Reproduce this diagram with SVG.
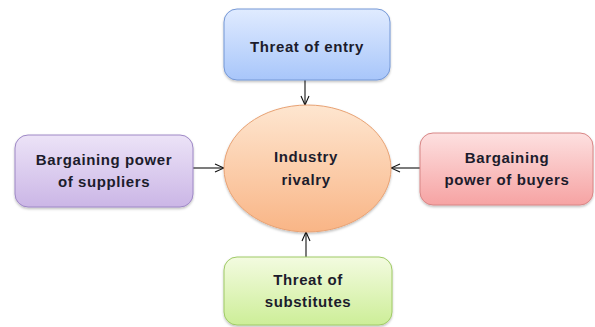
<svg xmlns="http://www.w3.org/2000/svg" width="595" height="327" viewBox="0 0 595 327">
<defs>
<linearGradient id="gBlue" x1="0" y1="0" x2="0" y2="1"><stop offset="0" stop-color="#e0ebff"/><stop offset="1" stop-color="#a8c6fa"/></linearGradient>
<linearGradient id="gPurple" x1="0" y1="0" x2="0" y2="1"><stop offset="0" stop-color="#ece3f7"/><stop offset="1" stop-color="#cbb6e6"/></linearGradient>
<linearGradient id="gRed" x1="0" y1="0" x2="0" y2="1"><stop offset="0" stop-color="#fde0e0"/><stop offset="1" stop-color="#f6a3a3"/></linearGradient>
<linearGradient id="gGreen" x1="0" y1="0" x2="0" y2="1"><stop offset="0" stop-color="#f3fbe0"/><stop offset="1" stop-color="#cdee98"/></linearGradient>
<linearGradient id="gOrange" x1="0" y1="0" x2="0" y2="1"><stop offset="0" stop-color="#fee6d0"/><stop offset="1" stop-color="#f9b586"/></linearGradient>
<filter id="sh" x="-10%" y="-10%" width="120%" height="130%"><feDropShadow dx="0" dy="1.5" stdDeviation="1.2" flood-color="#000" flood-opacity="0.25"/></filter>
<marker id="arr" viewBox="0 0 10 10" refX="10" refY="5" markerWidth="10" markerHeight="10" markerUnits="userSpaceOnUse" orient="auto"><path d="M1,1 L10,5 L1,9" fill="none" stroke="#111" stroke-width="1.1"/></marker>
</defs>
<style>
.t{font-family:"Liberation Sans",Arial,sans-serif;font-weight:bold;font-size:15px;letter-spacing:0.6px;fill:#1c1c2c;text-anchor:middle}
.c{stroke:#111;stroke-width:1.1;fill:none;marker-end:url(#arr)}
</style>
<rect width="595" height="327" fill="#fff"/>
<g id="connectors">
<line class="c" x1="305" y1="80" x2="305" y2="105"/>
<line class="c" x1="193" y1="168" x2="224" y2="168"/>
<line class="c" x1="420" y1="168" x2="391" y2="168"/>
<line class="c" x1="306" y1="257" x2="306" y2="232"/>
</g>
<g id="threat-entry">
<rect x="224" y="9" width="166" height="71" rx="13" fill="url(#gBlue)" stroke="#7598d6" stroke-width="1" filter="url(#sh)"/>
<text class="t" x="307" y="52">Threat of entry</text>
</g>
<g id="suppliers">
<rect x="15" y="135" width="178" height="72" rx="13" fill="url(#gPurple)" stroke="#9e88c6" stroke-width="1" filter="url(#sh)"/>
<text class="t" x="104" y="165">Bargaining power</text>
<text class="t" x="104" y="187">of suppliers</text>
</g>
<g id="buyers">
<rect x="420" y="133" width="173" height="72" rx="13" fill="url(#gRed)" stroke="#d88686" stroke-width="1" filter="url(#sh)"/>
<text class="t" x="507" y="163">Bargaining</text>
<text class="t" x="507" y="185">power of buyers</text>
</g>
<g id="substitutes">
<rect x="224" y="257" width="168" height="68" rx="13" fill="url(#gGreen)" stroke="#9fca66" stroke-width="1" filter="url(#sh)"/>
<text class="t" x="308" y="285">Threat of</text>
<text class="t" x="308" y="307">substitutes</text>
</g>
<g id="rivalry">
<ellipse cx="307.5" cy="168.5" rx="83.5" ry="63.5" fill="url(#gOrange)" stroke="#e8a274" stroke-width="1" filter="url(#sh)"/>
<text class="t" x="306" y="162">Industry</text>
<text class="t" x="306" y="185">rivalry</text>
</g>
</svg>
